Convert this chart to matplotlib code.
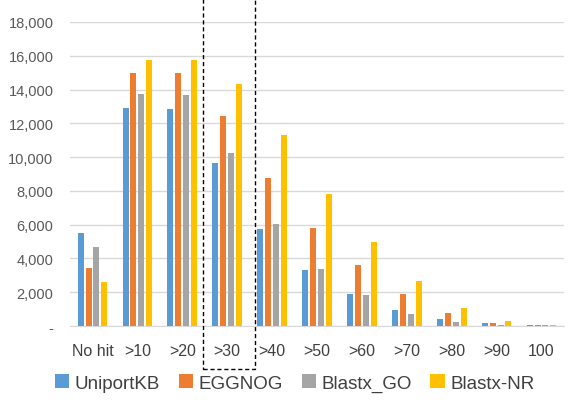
import numpy as np
import matplotlib.pyplot as plt
from matplotlib.patches import Rectangle
from matplotlib.ticker import FuncFormatter
import matplotlib.transforms as mtransforms

plt.rcParams['font.family'] = ['Liberation Sans', 'DejaVu Sans']

# ------------------------------------------------------------------
# Data
# ------------------------------------------------------------------
categories = ["No hit", ">10", ">20", ">30", ">40", ">50", ">60", ">70", ">80", ">90", "100"]
uniprot = [5500, 12900, 12850, 9650, 5750, 3320, 1900, 950, 420, 180, 60]
eggnog = [3450, 15000, 15000, 12450, 8770, 5800, 3610, 1900, 770, 170, 60]
blastx_go = [4680, 13740, 13680, 10250, 6040, 3380, 1840, 710, 240, 60, 60]
blastx_nr = [2620, 15770, 15770, 14330, 11310, 7820, 4970, 2660, 1070, 300, 70]

series = [uniprot, eggnog, blastx_go, blastx_nr]
names = ["UniportKB", "EGGNOG", "Blastx_GO", "Blastx-NR"]
colors = ["#5B9BD5", "#ED7D31", "#A5A5A5", "#FFC000"]
highlight = ">30"

# ------------------------------------------------------------------
# Plot
# ------------------------------------------------------------------
fig = plt.figure(figsize=(5.79, 4.10), dpi=100)
ax = fig.add_axes([0.121, 0.2024, 0.853, 0.7416])

x = np.arange(len(categories))
pitch = 0.176
width = 0.135
for i, (vals, name, col) in enumerate(zip(series, names, colors)):
    ax.bar(x + (i - 1.5) * pitch, vals, width=width, color=col, label=name, zorder=3)

ax.set_xlim(-0.5, len(categories) - 0.5)
ax.set_ylim(0, 18000)
ax.set_yticks(np.arange(0, 18001, 2000))
ax.yaxis.set_major_formatter(FuncFormatter(lambda v, p: "-" if v == 0 else f"{int(v):,}"))
ax.grid(axis='y', color='#d9d9d9', linewidth=1, zorder=0)

for s in ['top', 'right', 'left']:
    ax.spines[s].set_visible(False)
ax.spines['bottom'].set_color('#d9d9d9')

ax.set_xticks(x)
ax.set_xticklabels(categories, fontsize=11.5, color='#404040')
ax.tick_params(axis='x', length=0, pad=12)
ax.tick_params(axis='y', length=0, labelsize=10.5, labelcolor='#595959', pad=12)

# dashed box around the highlighted category
k = categories.index(highlight)
trans = mtransforms.blended_transform_factory(ax.transData, fig.transFigure)
box = Rectangle((k - 0.53, 0.097), 1.16, 0.905, transform=trans, fill=False,
                edgecolor='black', linestyle=(0, (3, 2)), linewidth=1, clip_on=False)
fig.add_artist(box)

fig.legend(loc='center', bbox_to_anchor=(0.509, 0.063), ncol=4, frameon=False,
           fontsize=13.5, handlelength=0.75, handleheight=0.75, handletextpad=0.3,
           columnspacing=1.0, labelcolor='#404040')

fig.savefig("out.png", dpi=100)
